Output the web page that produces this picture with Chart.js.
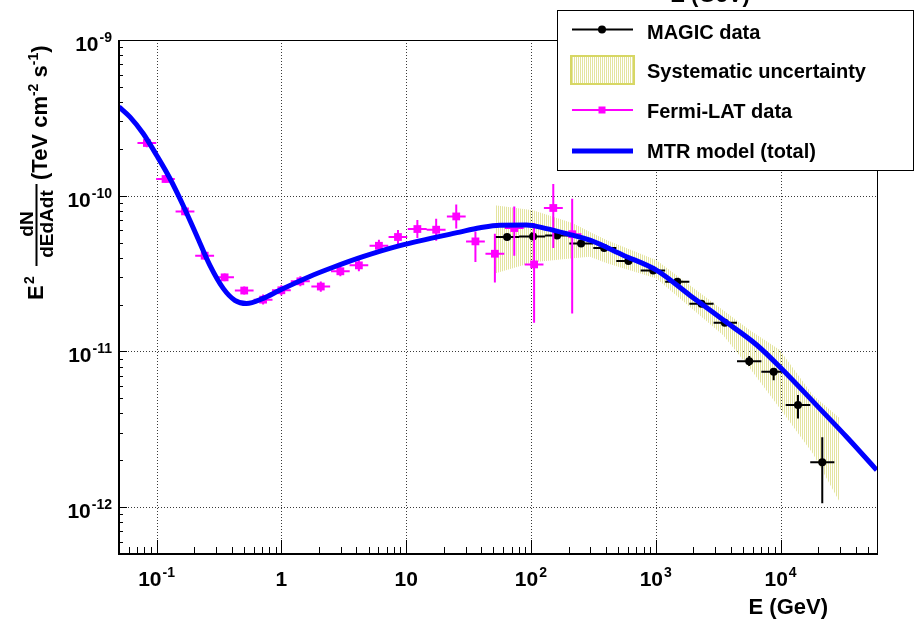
<!DOCTYPE html>
<html>
<head>
<meta charset="utf-8">
<script src="https://cdn.jsdelivr.net/npm/chart.js@4.4.1/dist/chart.umd.min.js"></script>
<style>
  html, body { margin: 0; padding: 0; background: #fff; }
  #wrap { width: 914px; height: 622px; }
</style>
</head>
<body>
<div id="wrap"><canvas id="sed" width="914" height="622"></canvas></div>
<script>
// Fermi-LAT points: energy (GeV), E^2 dN/dE (TeV cm^-2 s^-1), bin edges and errors
const fermiE    = [0.0836, 0.118, 0.169, 0.243, 0.351, 0.504, 0.714, 1.0, 1.42, 2.07, 2.97, 4.18, 6.05, 8.6, 12.3, 17.4, 25.2, 35.9, 51.4, 73.5, 106, 151, 214];
const fermiELo  = [0.0703, 0.0992, 0.142, 0.204, 0.295, 0.424, 0.600, 0.841, 1.19, 1.74, 2.50, 3.52, 5.09, 7.23, 10.3, 14.6, 21.2, 30.2, 43.2, 61.8, 89.1, 127, 180];
const fermiEHi  = [0.0994, 0.140, 0.201, 0.289, 0.417, 0.599, 0.849, 1.19, 1.69, 2.46, 3.53, 4.97, 7.19, 10.2, 14.6, 20.7, 30.0, 42.7, 61.1, 87.4, 126, 180, 254];
const fermiF    = [2.18e-10, 1.28e-10, 7.93e-11, 4.12e-11, 2.99e-11, 2.46e-11, 2.15e-11, 2.47e-11, 2.82e-11, 2.61e-11, 3.27e-11, 3.57e-11, 4.77e-11, 5.43e-11, 6.11e-11, 6.05e-11, 7.36e-11, 5.09e-11, 4.24e-11, 6.20e-11, 3.62e-11, 8.34e-11, 5.66e-11];
const fermiFLo  = [2.05e-10, 1.21e-10, 7.47e-11, 3.88e-11, 2.82e-11, 2.32e-11, 2.00e-11, 2.29e-11, 2.62e-11, 2.42e-11, 3.04e-11, 3.27e-11, 4.36e-11, 4.90e-11, 5.35e-11, 5.14e-11, 6.16e-11, 3.75e-11, 2.77e-11, 4.12e-11, 1.53e-11, 4.61e-11, 1.75e-11];
const fermiFHi  = [2.31e-10, 1.36e-10, 8.41e-11, 4.37e-11, 3.17e-11, 2.61e-11, 2.32e-11, 2.66e-11, 3.04e-11, 2.81e-11, 3.52e-11, 3.90e-11, 5.21e-11, 6.02e-11, 6.98e-11, 7.12e-11, 8.79e-11, 5.90e-11, 5.70e-11, 8.54e-11, 6.68e-11, 1.19e-10, 9.57e-11];

// MAGIC points
const magicE    = [64.4, 104, 162, 252, 386, 605, 955, 1490, 2330, 3580, 5610, 8810, 13800, 21600];
const magicELo  = [51.5, 80.5, 130, 203, 316, 483, 757, 1190, 1860, 2910, 4480, 7020, 11000, 17300];
const magicEHi  = [80.5, 130, 203, 316, 483, 757, 1190, 1860, 2910, 4480, 7020, 11000, 17300, 27000];
const magicF    = [5.43e-11, 5.48e-11, 5.56e-11, 4.94e-11, 4.61e-11, 3.81e-11, 3.31e-11, 2.80e-11, 2.02e-11, 1.53e-11, 8.66e-12, 7.40e-12, 4.52e-12, 1.94e-12];
const magicFLo  = [5.22e-11, 5.27e-11, 5.35e-11, 4.75e-11, 4.43e-11, 3.66e-11, 3.18e-11, 2.69e-11, 1.94e-11, 1.46e-11, 8.05e-12, 6.54e-12, 3.71e-12, 1.06e-12];
const magicFHi  = [5.65e-11, 5.70e-11, 5.78e-11, 5.14e-11, 4.79e-11, 3.96e-11, 3.44e-11, 2.91e-11, 2.10e-11, 1.60e-11, 9.33e-12, 7.81e-12, 5.24e-12, 2.81e-12];

// systematic uncertainty band of MAGIC
const bandE     = [51.4, 104, 217, 297, 407, 1014, 3470, 5680, 9860, 18100, 29800];
const bandHi    = [8.69e-11, 8.07e-11, 6.65e-11, 5.85e-11, 5.18e-11, 3.85e-11, 1.84e-11, 1.37e-11, 1.02e-11, 5.24e-12, 3.72e-12];
const bandLo    = [3.16e-11, 3.74e-11, 3.97e-11, 4.05e-11, 3.68e-11, 2.94e-11, 1.27e-11, 7.80e-12, 4.32e-12, 2.22e-12, 1.08e-12];

// MTR model (total)
const modelE    = [0.05, 0.0611, 0.0781, 0.1, 0.128, 0.163, 0.209, 0.267, 0.342, 0.424, 0.526, 0.714, 0.97, 1.69, 2.6, 4.5, 8.9, 26.9, 39, 56.4, 92, 133, 193, 297, 549, 1018, 1883, 3483, 6450, 9930, 20800, 33900, 59000];
const modelF    = [3.72e-10, 3.21e-10, 2.51e-10, 1.82e-10, 1.29e-10, 8.69e-11, 5.57e-11, 3.58e-11, 2.54e-11, 2.13e-11, 2.03e-11, 2.19e-11, 2.47e-11, 3.03e-11, 3.47e-11, 4.06e-11, 4.78e-11, 5.84e-11, 6.22e-11, 6.47e-11, 6.49e-11, 6.15e-11, 5.71e-11, 5.18e-11, 4.15e-11, 3.32e-11, 2.29e-11, 1.59e-11, 1.10e-11, 7.92e-12, 4.26e-12, 2.82e-12, 1.73e-12];

// axes
const xDecades  = [0.01, 0.1, 1, 10, 100, 1000, 10000];
const xTickVals = [0.1, 1, 10, 100, 1000, 10000];
const xTickBase = ['10', '1', '10', '10', '10', '10'];
const xTickExp  = ['-1', '', '', '2', '3', '4'];
const yDecades  = [1e-13, 1e-12, 1e-11, 1e-10];
const yTickVals = [1e-9, 1e-10, 1e-11, 1e-12];
const yTickExp  = ['-9', '-10', '-11', '-12'];
const legendLabels = ['MAGIC data', 'Systematic uncertainty', 'Fermi-LAT data', 'MTR model (total)'];

const FONT = '"Liberation Sans", Arial, Helvetica, sans-serif';
const MAGENTA = '#ff00ff';
const BLUE = '#0000ff';

function makeHatch() {
    const c = document.createElement('canvas');
    c.width = 2; c.height = 2;
    const g = c.getContext('2d');
    g.fillStyle = 'rgb(228,228,160)';
    g.fillRect(0, 0, 1, 2);
    return g.createPattern(c, 'repeat');
}
const hatch = makeHatch();

const pts = (xs, ys) => xs.map((v, i) => ({ x: v, y: ys[i] }));

// error bars drawn just before the markers of their dataset
const errorBars = {
    id: 'errorBars',
    beforeDatasetDraw(chart, args) {
        const ds = chart.data.datasets[args.index];
        if (!ds.errors) return;
        const { ctx, chartArea: a, scales: { x, y } } = chart;
        const e = ds.errors;
        ctx.save();
        ctx.beginPath();
        ctx.rect(a.left, a.top, a.right - a.left, a.bottom - a.top);
        ctx.clip();
        ctx.strokeStyle = ds.borderColor;
        ctx.lineWidth = 2;
        ctx.beginPath();
        e.e.forEach((ev, i) => {
            const px = x.getPixelForValue(ev);
            const py = y.getPixelForValue(e.f[i]);
            ctx.moveTo(x.getPixelForValue(e.eLo[i]), py);
            ctx.lineTo(x.getPixelForValue(e.eHi[i]), py);
            ctx.moveTo(px, y.getPixelForValue(e.fHi[i]));
            ctx.lineTo(px, y.getPixelForValue(e.fLo[i]));
        });
        ctx.stroke();
        ctx.restore();
    }
};

function hLine(ctx, x1, x2, y) { ctx.beginPath(); ctx.moveTo(x1, y); ctx.lineTo(x2, y); ctx.stroke(); }
function vLine(ctx, x, y1, y2) { ctx.beginPath(); ctx.moveTo(x, y1); ctx.lineTo(x, y2); ctx.stroke(); }

// ROOT-like frame: dotted grid, inner ticks, labels with exponents
const rootFrame = {
    id: 'rootFrame',
    beforeDatasetsDraw(chart) {
        const { ctx, chartArea: a, scales: { x, y } } = chart;
        ctx.save();
        ctx.strokeStyle = '#3a3a3a';
        ctx.lineWidth = 1;
        ctx.setLineDash([1, 2]);
        xTickVals.forEach(v => {
            const px = Math.round(x.getPixelForValue(v)) + 0.5;
            vLine(ctx, px, a.top, a.bottom);
        });
        yTickVals.forEach(v => {
            const py = Math.round(y.getPixelForValue(v)) + 0.5;
            hLine(ctx, a.left, a.right, py);
        });
        ctx.restore();
    },
    afterDatasetsDraw(chart) {
        const { ctx, chartArea: a, scales: { x, y } } = chart;
        ctx.save();
        ctx.strokeStyle = '#000';
        // top / right thin frame
        ctx.lineWidth = 1;
        hLine(ctx, a.left, a.right, a.top + 0.5);
        vLine(ctx, a.right + 0.5, a.top, a.bottom);
        // x ticks
        xDecades.forEach(d => {
            for (let m = 1; m <= 9; m++) {
                const v = d * m;
                if (v < x.min || v > x.max) continue;
                const px = Math.round(x.getPixelForValue(v)) + 0.5;
                vLine(ctx, px, a.bottom, a.bottom - (m === 1 ? 14 : 7));
            }
        });
        // y ticks
        yDecades.forEach(d => {
            for (let m = 1; m <= 9; m++) {
                const v = d * m;
                if (v < y.min || v > y.max * 1.0001) continue;
                const py = Math.round(y.getPixelForValue(v)) + 0.5;
                hLine(ctx, a.left, a.left + (m === 1 ? 8 : 4), py);
            }
        });
        // main axes
        ctx.lineWidth = 2;
        vLine(ctx, a.left, a.top, a.bottom + 1);
        hLine(ctx, a.left - 1, a.right + 1, a.bottom);

        ctx.fillStyle = '#000';
        ctx.textBaseline = 'alphabetic';
        // x labels
        xTickVals.forEach((v, i) => {
            const px = x.getPixelForValue(v);
            ctx.font = 'bold 21px ' + FONT;
            const wb = ctx.measureText(xTickBase[i]).width;
            ctx.font = 'bold 14px ' + FONT;
            const we = xTickExp[i] ? ctx.measureText(xTickExp[i]).width + 1 : 0;
            const x0 = px - (wb + we) / 2;
            ctx.textAlign = 'left';
            ctx.font = 'bold 21px ' + FONT;
            ctx.fillText(xTickBase[i], x0, 586);
            if (xTickExp[i]) {
                ctx.font = 'bold 14px ' + FONT;
                ctx.fillText(xTickExp[i], x0 + wb + 1, 577);
            }
        });
        // y labels
        yTickVals.forEach((v, i) => {
            const py = y.getPixelForValue(v);
            ctx.textAlign = 'right';
            ctx.font = 'bold 14px ' + FONT;
            const we = ctx.measureText(yTickExp[i]).width;
            ctx.fillText(yTickExp[i], 112, py + 2);
            ctx.font = 'bold 21px ' + FONT;
            ctx.fillText('10', 112 - we - 1, py + 11);
        });
        // x title, plus the stray copy clipped at the top edge
        ctx.font = 'bold 22px ' + FONT;
        ctx.textAlign = 'right';
        ctx.fillText('E (GeV)', 828, 614);
        ctx.textAlign = 'center';
        ctx.fillText('E (GeV)', 710, 2);

        // y title, rotated
        ctx.rotate(-Math.PI / 2);
        ctx.textAlign = 'left';
        ctx.font = 'bold 22px ' + FONT;
        ctx.fillText('E', -300, 43);
        ctx.font = 'bold 14px ' + FONT;
        ctx.fillText('2', -284, 34);
        ctx.font = 'bold 19px ' + FONT;
        ctx.textAlign = 'center';
        ctx.fillText('dN', -224, 33);
        ctx.fillText('dEdAdt', -224, 53);
        ctx.fillRect(-266, 35.5, 82, 2);
        ctx.textAlign = 'left';
        let p = -180;
        const part = (txt, size, base) => {
            ctx.font = 'bold ' + size + 'px ' + FONT;
            ctx.fillText(txt, p, base);
            p += ctx.measureText(txt).width;
        };
        part('(TeV cm', 22, 47);
        part('-2', 14, 38);
        part(' s', 22, 47);
        part('-1', 14, 38);
        part(')', 22, 47);
        ctx.restore();
    },
    afterDraw(chart) {
        const { ctx } = chart;
        ctx.save();
        ctx.fillStyle = '#fff';
        ctx.fillRect(557, 10, 357, 161);
        ctx.strokeStyle = '#000';
        ctx.lineWidth = 1;
        ctx.strokeRect(557.5, 10.5, 356, 160);

        // MAGIC entry
        ctx.lineWidth = 2;
        hLine(ctx, 572, 633, 29.5);
        ctx.fillStyle = '#000';
        ctx.beginPath(); ctx.arc(602, 29.5, 4, 0, Math.PI * 2); ctx.fill();
        // systematic entry
        ctx.fillStyle = hatch;
        ctx.fillRect(571, 56, 63, 28);
        ctx.strokeStyle = 'rgb(215,215,100)';
        ctx.lineWidth = 2;
        ctx.strokeRect(571, 56, 63, 28);
        // Fermi entry
        ctx.strokeStyle = MAGENTA;
        ctx.lineWidth = 2;
        hLine(ctx, 572, 633, 110);
        ctx.fillStyle = MAGENTA;
        ctx.fillRect(598.5, 106.5, 7, 7);
        // model entry
        ctx.strokeStyle = BLUE;
        ctx.lineWidth = 5;
        hLine(ctx, 572, 633, 151);

        ctx.fillStyle = '#000';
        ctx.font = 'bold 20px ' + FONT;
        ctx.textAlign = 'left';
        ctx.textBaseline = 'alphabetic';
        [39, 77.5, 117.5, 157.5].forEach((by, i) => ctx.fillText(legendLabels[i], 647, by));
        ctx.restore();
    }
};

new Chart(document.getElementById('sed'), {
    type: 'scatter',
    data: {
        datasets: [
            {
                label: 'band upper',
                data: pts(bandE, bandHi),
                showLine: true,
                borderWidth: 0,
                borderColor: 'rgba(0,0,0,0)',
                pointRadius: 0,
                fill: false,
                order: 5
            },
            {
                label: legendLabels[1],
                data: pts(bandE, bandLo),
                showLine: true,
                borderWidth: 0,
                borderColor: 'rgba(0,0,0,0)',
                pointRadius: 0,
                fill: '-1',
                backgroundColor: hatch,
                order: 4
            },
            {
                label: legendLabels[0],
                data: pts(magicE, magicF),
                pointStyle: 'circle',
                pointRadius: 4,
                backgroundColor: '#000',
                borderColor: '#000',
                borderWidth: 0,
                errors: { e: magicE, eLo: magicELo, eHi: magicEHi, f: magicF, fLo: magicFLo, fHi: magicFHi },
                order: 2
            },
            {
                label: legendLabels[2],
                data: pts(fermiE, fermiF),
                pointStyle: 'rect',
                pointRadius: 5.5,
                backgroundColor: MAGENTA,
                borderColor: MAGENTA,
                borderWidth: 0,
                errors: { e: fermiE, eLo: fermiELo, eHi: fermiEHi, f: fermiF, fLo: fermiFLo, fHi: fermiFHi },
                order: 1
            },
            {
                label: legendLabels[3],
                data: pts(modelE, modelF),
                showLine: true,
                borderColor: BLUE,
                borderWidth: 5,
                pointRadius: 0,
                cubicInterpolationMode: 'monotone',
                fill: false,
                clip: 0,
                order: 0
            }
        ]
    },
    options: {
        responsive: false,
        animation: false,
        devicePixelRatio: 1,
        layout: { padding: { left: 119, top: 40, right: 37, bottom: 68 } },
        plugins: {
            legend: { display: false },
            tooltip: { enabled: false }
        },
        scales: {
            x: {
                type: 'logarithmic',
                min: 0.05,
                max: 59300,
                ticks: { display: false },
                grid: { display: false, drawTicks: false, tickLength: 0 },
                border: { display: false }
            },
            y: {
                type: 'logarithmic',
                min: 5e-13,
                max: 1e-9,
                ticks: { display: false },
                grid: { display: false, drawTicks: false, tickLength: 0 },
                border: { display: false }
            }
        }
    },
    plugins: [errorBars, rootFrame]
});
</script>
</body>
</html>
